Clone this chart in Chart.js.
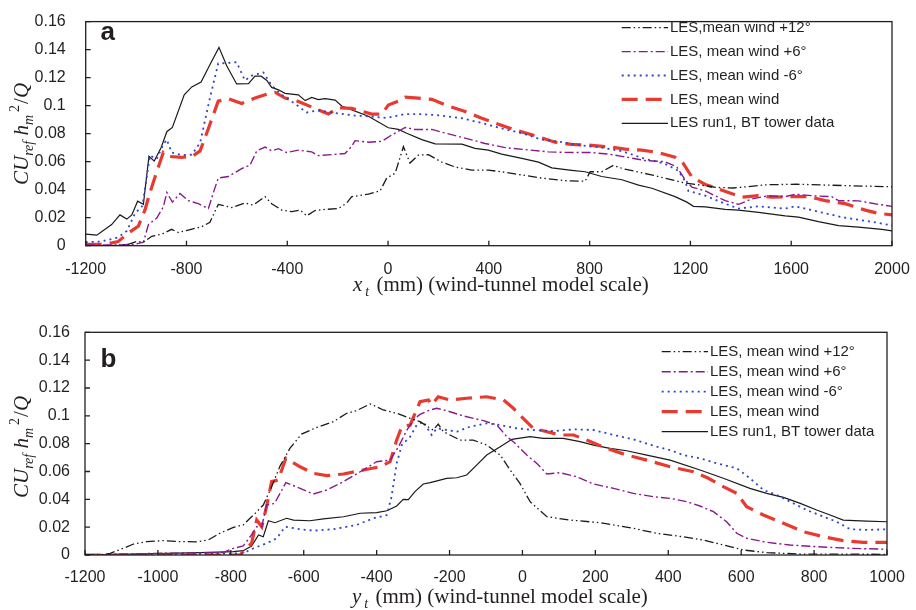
<!DOCTYPE html>
<html>
<head>
<meta charset="utf-8">
<script src="https://cdn.jsdelivr.net/npm/chart.js@4.4.1/dist/chart.umd.min.js"></script>
<style>
body { margin: 0; background: #fff; }
#wrap { position: relative; width: 916px; height: 610px; }
canvas { position: absolute; left: 0; }
</style>
</head>
<body>
<div id="wrap">
<canvas id="chartA" width="916" height="305" style="top:0"></canvas>
<canvas id="chartB" width="916" height="305" style="top:305px"></canvas>
</div>
<script>
// legend labels (panel a has no space after the comma in the first one)
var namesA = ['LES,mean wind +12°', 'LES, mean wind +6°', 'LES, mean wind -6°', 'LES, mean wind', 'LES run1, BT tower data']
var namesB = ['LES, mean wind +12°', 'LES, mean wind +6°', 'LES, mean wind -6°', 'LES, mean wind', 'LES run1, BT tower data']

var xTicksA = [-1200, -800, -400, 0, 400, 800, 1200, 1600, 2000]
var xTicksB = [-1200, -1000, -800, -600, -400, -200, 0, 200, 400, 600, 800, 1000]
var yTicks = [0, 0.02, 0.04, 0.06, 0.08, 0.1, 0.12, 0.14, 0.16]
var yTickLabels = ['0', '0.02', '0.04', '0.06', '0.08', '0.1', '0.12', '0.14', '0.16']

// panel a: [x_t (mm), CU h^2/Q]
var windP12A = [[-1200,0],[-1100,0],[-1031,0.001],[-998,0.003],[-971,0.0025],[-938,0.0067],[-898,0.0082],[-859,0.0117],[-832,0.0094],[-793,0.0112],[-740,0.0135],[-707,0.0167],[-674,0.0295],[-620,0.0272],[-568,0.0305],[-535,0.029],[-488,0.035],[-462,0.03],[-422,0.0254],[-382,0.0243],[-349,0.0254],[-323,0.0213],[-290,0.0251],[-250,0.0259],[-197,0.0265],[-164,0.0305],[-144,0.035],[-78,0.0368],[-32,0.0391],[-5,0.0483],[28,0.0517],[61,0.0707],[87,0.059],[120,0.0647],[160,0.065],[213,0.0597],[266,0.0562],[332,0.054],[398,0.054],[465,0.0524],[531,0.0505],[610,0.0483],[703,0.0464],[782,0.046],[802,0.0528],[848,0.0528],[894,0.0574],[934,0.0549],[1040,0.0508],[1172,0.045],[1305,0.0416],[1371,0.0412],[1503,0.0435],[1622,0.0439],[1834,0.0428],[2000,0.0421]]
var windP6A = [[-1200,0.0005],[-1071,0.0005],[-1004,0.001],[-971,0.0025],[-951,0.0151],[-918,0.0197],[-892,0.0277],[-878,0.038],[-856,0.0311],[-826,0.0373],[-793,0.0322],[-753,0.03],[-713,0.0265],[-693,0.038],[-674,0.0483],[-634,0.0494],[-581,0.0551],[-548,0.0574],[-521,0.0677],[-488,0.0704],[-462,0.0677],[-435,0.0693],[-402,0.0665],[-356,0.0682],[-303,0.067],[-277,0.0643],[-224,0.065],[-171,0.0658],[-144,0.071],[-131,0.075],[-78,0.0739],[-25,0.0745],[15,0.0791],[68,0.0844],[107,0.083],[174,0.083],[240,0.0798],[306,0.0768],[385,0.073],[465,0.07],[557,0.0684],[636,0.067],[729,0.0665],[808,0.0665],[875,0.0654],[928,0.0638],[1020,0.0608],[1099,0.06],[1146,0.0562],[1179,0.0471],[1206,0.0418],[1259,0.0391],[1338,0.0322],[1391,0.0295],[1444,0.0334],[1510,0.0357],[1576,0.035],[1616,0.0368],[1682,0.0357],[1761,0.035],[1788,0.0322],[1867,0.032],[1946,0.0295],[2000,0.0281]]
var windM6A = [[-1200,0.0025],[-1137,0.003],[-1071,0.006],[-1037,0.0105],[-1004,0.0231],[-975,0.0284],[-945,0.0643],[-918,0.062],[-892,0.0723],[-878,0.0757],[-859,0.0665],[-819,0.0647],[-779,0.065],[-746,0.0734],[-707,0.1054],[-674,0.1301],[-634,0.1305],[-601,0.131],[-568,0.118],[-541,0.1214],[-495,0.1237],[-462,0.1145],[-422,0.1077],[-369,0.1013],[-323,0.0951],[-277,0.0967],[-224,0.0951],[-158,0.0935],[-131,0.0929],[-65,0.0922],[-5,0.0912],[68,0.094],[120,0.094],[200,0.0931],[293,0.091],[372,0.0876],[451,0.0837],[531,0.0803],[610,0.0757],[689,0.0739],[769,0.0716],[848,0.07],[928,0.0675],[1020,0.062],[1099,0.0585],[1152,0.0535],[1179,0.046],[1192,0.0391],[1259,0.0357],[1338,0.03],[1391,0.0265],[1470,0.0281],[1576,0.0265],[1616,0.0281],[1682,0.0254],[1735,0.0231],[1801,0.0204],[1867,0.0185],[1933,0.0167],[2000,0.0144]]
var windMeanA = [[-1200,0.001],[-1123,0.001],[-1071,0.003],[-1031,0.009],[-991,0.014],[-965,0.0254],[-945,0.038],[-918,0.0528],[-892,0.0665],[-872,0.0638],[-819,0.0631],[-779,0.0636],[-746,0.0677],[-713,0.0837],[-674,0.1032],[-634,0.105],[-581,0.1015],[-528,0.1054],[-481,0.1082],[-448,0.1095],[-409,0.1054],[-369,0.104],[-303,0.099],[-237,0.094],[-197,0.0985],[-144,0.098],[-65,0.094],[-25,0.094],[1,0.1004],[41,0.1032],[68,0.1061],[120,0.1054],[174,0.1045],[240,0.0997],[306,0.0958],[372,0.091],[438,0.0867],[504,0.0826],[584,0.0785],[663,0.0739],[729,0.0723],[795,0.0718],[875,0.0706],[941,0.069],[1007,0.0682],[1073,0.0665],[1139,0.0631],[1172,0.0586],[1206,0.049],[1259,0.0437],[1298,0.0414],[1351,0.038],[1404,0.0346],[1470,0.0357],[1523,0.0346],[1603,0.035],[1669,0.035],[1735,0.0322],[1814,0.03],[1894,0.0254],[1946,0.0231],[2000,0.022]]
var towerA = [[-1200,0.0082],[-1156,0.0075],[-1097,0.0151],[-1064,0.022],[-1037,0.019],[-1017,0.022],[-994,0.0318],[-971,0.0295],[-949,0.0638],[-928,0.0604],[-901,0.07],[-878,0.0814],[-856,0.0844],[-809,0.1077],[-779,0.1134],[-742,0.1168],[-703,0.1306],[-671,0.1416],[-640,0.1283],[-601,0.1155],[-554,0.1157],[-528,0.121],[-504,0.121],[-481,0.118],[-462,0.113],[-435,0.1113],[-409,0.1088],[-356,0.1077],[-329,0.1036],[-303,0.1059],[-277,0.1043],[-250,0.105],[-210,0.104],[-184,0.0997],[-144,0.097],[-78,0.0924],[1,0.0842],[41,0.083],[74,0.0803],[134,0.0757],[187,0.0727],[293,0.0725],[345,0.0695],[398,0.0682],[451,0.0654],[531,0.0624],[597,0.0597],[650,0.0556],[729,0.0538],[782,0.0528],[848,0.0494],[928,0.0471],[994,0.0432],[1047,0.041],[1139,0.035],[1186,0.0311],[1212,0.0281],[1259,0.0277],[1338,0.0259],[1391,0.0254],[1470,0.0238],[1576,0.0213],[1629,0.0204],[1708,0.0172],[1788,0.0144],[1867,0.0133],[1960,0.0117],[2000,0.0106]]

// panel b: [y_t (mm), CU h^2/Q]
var windP12B = [[-1200,0],[-1159,0],[-1131,0.0012],[-1095,0.0048],[-1067,0.0079],[-1031,0.0096],[-985,0.0103],[-939,0.0096],[-894,0.0095],[-862,0.0108],[-830,0.0156],[-793,0.0199],[-766,0.0216],[-738,0.0287],[-711,0.0359],[-688,0.049],[-665,0.0639],[-638,0.0766],[-606,0.0869],[-564,0.0917],[-519,0.0958],[-482,0.1018],[-455,0.1037],[-418,0.1085],[-404,0.107],[-382,0.1042],[-345,0.1018],[-308,0.0982],[-281,0.0958],[-245,0.0898],[-231,0.0941],[-217,0.0886],[-171,0.0826],[-135,0.0826],[-98,0.079],[-61,0.0718],[-34,0.0611],[-7,0.0515],[21,0.0383],[67,0.0275],[131,0.0251],[213,0.0232],[304,0.0192],[368,0.0156],[441,0.0131],[496,0.0108],[551,0.0072],[606,0.0036],[670,0.0017],[762,0.0007],[1000,0.0005]]
var windP6B = [[-1200,0],[-1003,0.0012],[-821,0.0017],[-793,0.0048],[-766,0.0065],[-747,0.0131],[-729,0.0203],[-715,0.0203],[-702,0.036],[-680,0.037],[-665,0.0443],[-649,0.052],[-610,0.0479],[-574,0.0438],[-537,0.0467],[-491,0.0527],[-445,0.0598],[-400,0.067],[-363,0.0682],[-340,0.0778],[-317,0.0898],[-295,0.0982],[-281,0.101],[-253,0.1042],[-235,0.1054],[-208,0.1037],[-162,0.0999],[-107,0.0965],[-70,0.0934],[-43,0.085],[-25,0.0814],[12,0.0718],[39,0.0659],[67,0.0582],[103,0.0591],[149,0.0562],[195,0.051],[250,0.0479],[304,0.0443],[359,0.0419],[405,0.0407],[451,0.0383],[487,0.0352],[524,0.0311],[560,0.0239],[588,0.0156],[615,0.012],[670,0.0091],[734,0.0072],[807,0.006],[899,0.0048],[1000,0.0041]]
var windM6B = [[-1200,0],[-766,0.0012],[-738,0.0048],[-702,0.0084],[-674,0.012],[-651,0.0203],[-610,0.0185],[-574,0.0175],[-519,0.0185],[-455,0.0216],[-409,0.0264],[-372,0.0287],[-359,0.0419],[-345,0.0659],[-331,0.079],[-308,0.085],[-290,0.0934],[-272,0.0958],[-249,0.0862],[-235,0.091],[-208,0.0898],[-180,0.0886],[-144,0.0922],[-98,0.0946],[-61,0.0934],[-16,0.091],[30,0.0898],[85,0.089],[140,0.0903],[195,0.0898],[250,0.0862],[304,0.0831],[368,0.0778],[405,0.0754],[441,0.0718],[487,0.0695],[533,0.0659],[588,0.0623],[624,0.0551],[661,0.0467],[698,0.0431],[734,0.0383],[780,0.0323],[826,0.0275],[862,0.0239],[899,0.0185],[944,0.018],[1000,0.0185]]
var windMeanB = [[-1200,0],[-775,0],[-766,0.0024],[-743,0.0084],[-729,0.0251],[-715,0.0203],[-702,0.0347],[-688,0.0527],[-670,0.0539],[-649,0.0695],[-610,0.0634],[-574,0.0587],[-537,0.057],[-491,0.0582],[-436,0.0611],[-391,0.0634],[-363,0.067],[-345,0.0826],[-331,0.0922],[-308,0.0934],[-281,0.1101],[-258,0.1114],[-249,0.1078],[-231,0.1137],[-199,0.1114],[-153,0.1126],[-98,0.1137],[-52,0.1114],[-25,0.1054],[2,0.0982],[30,0.091],[67,0.0886],[103,0.0862],[140,0.0862],[176,0.0826],[231,0.0766],[286,0.0718],[341,0.0682],[405,0.0634],[469,0.0598],[510,0.0551],[551,0.0491],[588,0.0443],[615,0.0347],[661,0.0287],[716,0.0228],[771,0.0167],[826,0.0131],[880,0.0103],[935,0.0091],[1000,0.0091]]
var towerB = [[-1200,0],[-884,0.0017],[-793,0.0024],[-766,0.0031],[-743,0.0065],[-724,0.0144],[-711,0.0131],[-697,0.0246],[-679,0.0232],[-647,0.0264],[-628,0.0251],[-583,0.0246],[-546,0.0259],[-491,0.0275],[-445,0.03],[-400,0.0304],[-372,0.0318],[-345,0.0352],[-327,0.04],[-313,0.0398],[-295,0.0455],[-272,0.051],[-253,0.052],[-208,0.0551],[-180,0.0555],[-153,0.0575],[-125,0.0647],[-98,0.0718],[-61,0.0778],[-29,0.0831],[21,0.085],[57,0.0838],[112,0.0838],[158,0.0814],[195,0.079],[240,0.0766],[286,0.0749],[341,0.0718],[405,0.0682],[487,0.0611],[551,0.0551],[624,0.0479],[670,0.0443],[716,0.0414],[762,0.0371],[807,0.0323],[844,0.0287],[880,0.0251],[944,0.0244],[1000,0.0239]]

var textColor = '#231f20'
var sans = '"Liberation Sans", Arial, sans-serif'
var serif = '"Liberation Serif", "DejaVu Serif", serif'

// same order as the legend
var lineStyles = [
    { color: '#1a1a1a', width: 1.3, dash: [9, 3, 1.5, 3, 1.5, 3] },
    { color: '#8a1a8c', width: 1.4, dash: [9, 3, 2, 3] },
    { color: '#2e45c8', width: 1.8, dash: [2, 4] },
    { color: '#e83a2e', width: 3.2, dash: [16, 8] },
    { color: '#1a1a1a', width: 1.2, dash: [] }
]

function drawRich(ctx, segs) {
    var x = 0
    segs.forEach(function (s) {
        ctx.font = s.font
        ctx.fillText(s.text, x, s.dy || 0)
        x += ctx.measureText(s.text).width + (s.gap || 0)
    })
}

function makeDeco(p) {
    return {
        id: 'deco',
        afterDraw: function (chart) {
            var ctx = chart.ctx
            var a = chart.chartArea
            var xs = chart.scales.x, ys = chart.scales.y
            ctx.save()
            // frame + inward ticks
            ctx.strokeStyle = textColor
            ctx.lineWidth = 1.3
            ctx.strokeRect(a.left, a.top, a.right - a.left, a.bottom - a.top)
            ctx.beginPath()
            xs.ticks.forEach(function (t) {
                var x = xs.getPixelForValue(t.value)
                ctx.moveTo(x, a.bottom)
                ctx.lineTo(x, a.bottom - 5)
            })
            ys.ticks.forEach(function (t) {
                var y = ys.getPixelForValue(t.value)
                ctx.moveTo(a.left, y)
                ctx.lineTo(a.left + 5, y)
            })
            ctx.stroke()

            // legend
            chart.data.datasets.forEach(function (ds, i) {
                var y = p.legY + i * p.legStep
                ctx.strokeStyle = ds.borderColor
                ctx.lineWidth = ds.borderWidth
                ctx.setLineDash(ds.borderDash)
                ctx.beginPath()
                ctx.moveTo(p.legX0, y)
                ctx.lineTo(p.legX1, y)
                ctx.stroke()
                ctx.setLineDash([])
                ctx.fillStyle = textColor
                ctx.font = '15px ' + sans
                ctx.textAlign = 'left'
                ctx.textBaseline = 'middle'
                ctx.fillText(ds.label, p.legX1 + 2, y)
            })

            ctx.fillStyle = textColor
            ctx.textBaseline = 'alphabetic'
            // panel letter
            ctx.font = 'bold 26px ' + sans
            ctx.fillText(p.letter, p.letterPos[0], p.letterPos[1])

            // x title
            ctx.save()
            ctx.translate(p.xTitlePos[0], p.xTitlePos[1])
            drawRich(ctx, [
                { text: p.xVar, font: 'italic 21px ' + serif, gap: 3 },
                { text: 't', font: 'italic 14px ' + serif, dy: 5, gap: 2 },
                { text: ' (mm) (wind-tunnel model scale)', font: '21px ' + serif }
            ])
            ctx.restore()

            // y title
            ctx.save()
            ctx.translate(p.yTitlePos[0], p.yTitlePos[1])
            ctx.rotate(-Math.PI / 2)
            drawRich(ctx, [
                { text: 'CU', font: 'italic 21px ' + serif },
                { text: 'ref', font: 'italic 14px ' + serif, dy: 5 },
                { text: ' h', font: 'italic 21px ' + serif },
                { text: 'm', font: 'italic 14px ' + serif, dy: 5, gap: 3 },
                { text: '2', font: '14px ' + serif, dy: -9, gap: 1 },
                { text: '/', font: '21px ' + serif },
                { text: 'Q', font: 'italic 21px ' + serif }
            ])
            ctx.restore()
            ctx.restore()
        }
    }
}

function makeChart(id, p) {
    var datasets = p.series.map(function (s, i) {
        var st = lineStyles[i]
        return {
            label: p.names[i],
            data: s.map(function (d) { return { x: d[0], y: d[1] } }),
            borderColor: st.color,
            borderWidth: st.width,
            borderDash: st.dash,
            pointRadius: 0,
            fill: false,
            tension: 0
        }
    })
    return new Chart(document.getElementById(id), {
        type: 'line',
        data: { datasets: datasets },
        options: {
            responsive: false,
            animation: false,
            layout: { padding: { left: 0, right: p.padRight, top: p.padTop, bottom: 0 } },
            plugins: { legend: { display: false }, tooltip: { enabled: false } },
            scales: {
                x: {
                    type: 'linear',
                    min: p.xTicks[0],
                    max: p.xTicks[p.xTicks.length - 1],
                    grid: { display: false },
                    border: { display: false },
                    afterBuildTicks: function (sc) {
                        sc.ticks = p.xTicks.map(function (v) { return { value: v } })
                    },
                    afterFit: function (sc) { sc.height = p.xAxisH },
                    ticks: {
                        padding: p.xPad,
                        maxRotation: 0,
                        autoSkip: false,
                        color: textColor,
                        font: { family: sans, size: 16 },
                        callback: function (v) { return String(v) }
                    }
                },
                y: {
                    min: 0,
                    max: 0.16,
                    grid: { display: false },
                    border: { display: false },
                    afterBuildTicks: function (sc) {
                        sc.ticks = yTicks.map(function (v) { return { value: v } })
                    },
                    afterFit: function (sc) { sc.width = p.yAxisW },
                    ticks: {
                        padding: p.yPad,
                        color: textColor,
                        font: { family: sans, size: 16 },
                        callback: function (v, i) { return yTickLabels[i] }
                    }
                }
            }
        },
        plugins: [makeDeco(p)]
    })
}

makeChart('chartA', {
    series: [windP12A, windP6A, windM6A, windMeanA, towerA],
    names: namesA,
    xTicks: xTicksA,
    padTop: 12, padRight: 24, yAxisW: 85.7, xAxisH: 59.3, xPad: 6, yPad: 12,
    legX0: 621.7, legX1: 668, legY: 27.7, legStep: 23.9,
    letter: 'a', letterPos: [100.5, 40],
    xVar: 'x', xTitlePos: [353, 291], yTitlePos: [27.5, 185]
})

makeChart('chartB', {
    series: [windP12B, windP6B, windM6B, windMeanB, towerB],
    names: namesB,
    xTicks: xTicksB,
    padTop: 27.3, padRight: 29, yAxisW: 85, xAxisH: 55, xPad: 5, yPad: 7,
    legX0: 661.7, legX1: 708, legY: 46.7, legStep: 20,
    letter: 'b', letterPos: [100.5, 61.5],
    xVar: 'y', xTitlePos: [352, 298], yTitlePos: [28, 193]
})
</script>
</body>
</html>
